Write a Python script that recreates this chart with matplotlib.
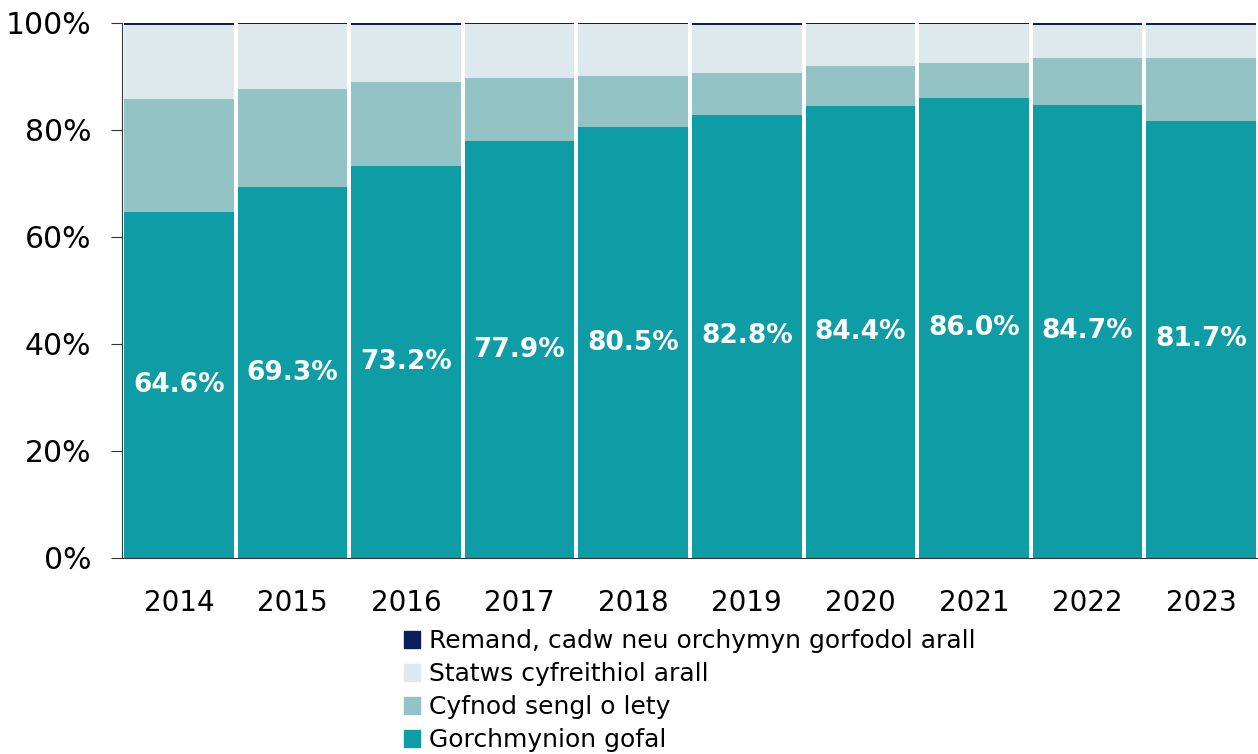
import numpy as np
import matplotlib.pyplot as plt
from matplotlib.patches import Patch

plt.rcParams['font.family'] = ['DejaVu Sans']

years = ['2014', '2015', '2016', '2017', '2018', '2019', '2020', '2021', '2022', '2023']
gofal = [64.6, 69.3, 73.2, 77.9, 80.5, 82.8, 84.4, 86.0, 84.7, 81.7]
cyfnod = [21.1, 18.4, 15.8, 11.8, 9.6, 7.9, 7.6, 6.5, 8.7, 11.8]
remand = [0.3, 0.1, 0.3, 0.1, 0.1, 0.3, 0.2, 0.1, 0.3, 0.3]
statws = [100 - g - c - r for g, c, r in zip(gofal, cyfnod, remand)]

labels = ['Gorchmynion gofal', 'Cyfnod sengl o lety',
          'Statws cyfreithiol arall', 'Remand, cadw neu orchymyn gorfodol arall']
colors = ['#0e9ca5', '#94c3c6', '#dde9ec', '#0b1f5c']

fig = plt.figure(figsize=(12.58, 7.54), dpi=100)
ax = fig.add_axes([0.097, 0.26, 0.903, 0.7095])

x = np.arange(len(years))
bottom = np.zeros(len(years))
for vals, col in zip([gofal, cyfnod, statws, remand], colors):
    ax.bar(x, vals, bottom=bottom, width=0.965, color=col, linewidth=0)
    bottom += np.array(vals)

for i, v in enumerate(gofal):
    ax.text(i, v / 2, f'{v:.1f}%', ha='center', va='center', color='white',
            fontsize=19, fontweight='bold')

ax.set_xlim(-0.5, len(years) - 0.5)
ax.set_ylim(0, 100)
ax.set_yticks(range(0, 101, 20))
ax.set_yticklabels([f'{t}%' for t in range(0, 101, 20)], fontsize=21.5)
ax.set_xticks(x)
ax.set_xticklabels(years, fontsize=20)
ax.tick_params(axis='x', length=0, pad=22)
ax.tick_params(axis='y', length=8, color='#333333', pad=14)
for s in ['top', 'right']:
    ax.spines[s].set_visible(False)
ax.spines['left'].set_color('#333333')
ax.spines['bottom'].set_color('#333333')

handles = [Patch(color=c) for c in colors[::-1]]
fig.legend(handles, labels[::-1], loc='upper center', bbox_to_anchor=(0.548, 0.182),
           frameon=False, fontsize=18, handlelength=0.65, handleheight=0.65,
           handletextpad=0.35, labelspacing=0.36, borderpad=0)

fig.savefig('out.png', dpi=100)
